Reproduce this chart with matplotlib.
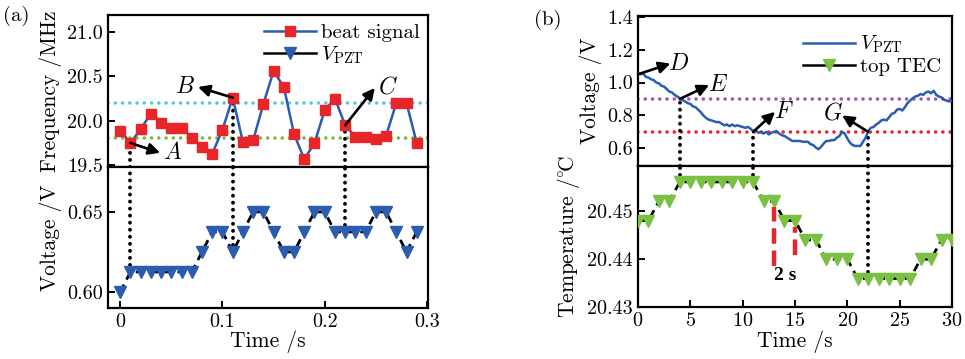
#!/bin/env python
# two-panel figure: (a) beat signal / PZT voltage, (b) PZT voltage / TEC temperature

import matplotlib.pyplot as plt
from matplotlib.lines import Line2D
from matplotlib.ticker import FormatStrFormatter

plt.rcParams['font.family'] = ['cmr10', 'DejaVu Serif']
plt.rcParams['mathtext.fontset'] = 'cm'
plt.rcParams['axes.unicode_minus'] = False
plt.rcParams['axes.formatter.use_mathtext'] = True

# ---- panel (a) data ----
time_a = [0.00, 0.01, 0.02, 0.03, 0.04, 0.05, 0.06, 0.07, 0.08, 0.09,
          0.10, 0.11, 0.12, 0.13, 0.14, 0.15, 0.16, 0.17, 0.18, 0.19,
          0.20, 0.21, 0.22, 0.23, 0.24, 0.25, 0.26, 0.27, 0.28, 0.29]
beat = [19.89, 19.75, 19.91, 20.08, 19.98, 19.92, 19.92, 19.81, 19.70, 19.63,
        19.90, 20.26, 19.76, 19.78, 20.19, 20.56, 20.38, 19.85, 19.57, 19.75,
        20.12, 20.25, 19.95, 19.82, 19.82, 19.80, 19.83, 20.20, 20.20, 19.75]
vpzt_a = [0.600, 0.6125, 0.6125, 0.6125, 0.6125, 0.6125, 0.6125, 0.6125, 0.625, 0.6375,
          0.6375, 0.625, 0.6375, 0.650, 0.650, 0.6375, 0.625, 0.625, 0.6375, 0.650,
          0.650, 0.6375, 0.6375, 0.6375, 0.6375, 0.650, 0.650, 0.6375, 0.625, 0.6375]
freq_levels = [20.2, 19.81]
events_a = [1, 11, 22]          # indices of points A, B, C
labels_a = ['A', 'B', 'C']
label_pos_a = [(0.039, 19.64), (0.076, 20.38), (0.249, 20.37)]

# ---- panel (b) data ----
time_v = [0.0, 0.25, 0.5, 0.75, 1.0, 1.25, 1.5, 1.75, 2.0, 2.25, 2.5, 2.75,
          3.0, 3.25, 3.5, 3.75, 4.0, 4.25, 4.5, 4.75, 5.0, 5.25, 5.5, 5.75,
          6.0, 6.25, 6.5, 6.75, 7.0, 7.25, 7.5, 7.75, 8.0, 8.25, 8.5, 8.75,
          9.0, 9.25, 9.5, 9.75, 10.0, 10.25, 10.5, 10.75, 11.0, 11.25, 11.5, 11.75,
          12.0, 12.25, 12.5, 12.75, 13.0, 13.25, 13.5, 13.75, 14.0, 14.25, 14.5, 14.75,
          15.0, 15.25, 15.5, 15.75, 16.0, 16.25, 16.5, 16.75, 17.0, 17.25, 17.5, 17.75,
          18.0, 18.25, 18.5, 18.75, 19.0, 19.25, 19.5, 19.75, 20.0, 20.25, 20.5, 20.75,
          21.0, 21.25, 21.5, 21.75, 22.0, 22.25, 22.5, 22.75, 23.0, 23.25, 23.5, 23.75,
          24.0, 24.25, 24.5, 24.75, 25.0, 25.25, 25.5, 25.75, 26.0, 26.25, 26.5, 26.75,
          27.0, 27.25, 27.5, 27.75, 28.0, 28.25, 28.5, 28.75, 29.0, 29.25, 29.5, 29.75,
          30.0]
vpzt_b = [1.060, 1.050, 1.055, 1.035, 1.030, 1.020, 1.015, 1.000, 0.995, 0.980, 0.975, 0.960,
          0.945, 0.940, 0.925, 0.915, 0.905, 0.895, 0.885, 0.875, 0.870, 0.855, 0.850, 0.835,
          0.820, 0.800, 0.785, 0.775, 0.770, 0.765, 0.760, 0.760, 0.750, 0.740, 0.745, 0.735,
          0.745, 0.735, 0.740, 0.735, 0.730, 0.725, 0.730, 0.720, 0.705, 0.710, 0.695, 0.700,
          0.690, 0.700, 0.685, 0.695, 0.700, 0.705, 0.690, 0.680, 0.675, 0.665, 0.655, 0.645,
          0.645, 0.645, 0.645, 0.640, 0.640, 0.640, 0.625, 0.620, 0.605, 0.595, 0.610, 0.630,
          0.645, 0.645, 0.650, 0.650, 0.665, 0.675, 0.700, 0.690, 0.660, 0.635, 0.620, 0.615,
          0.615, 0.615, 0.640, 0.665, 0.705, 0.725, 0.730, 0.745, 0.755, 0.770, 0.775, 0.770,
          0.790, 0.810, 0.815, 0.835, 0.840, 0.830, 0.850, 0.875, 0.890, 0.905, 0.915, 0.920,
          0.930, 0.925, 0.940, 0.945, 0.935, 0.950, 0.925, 0.915, 0.910, 0.895, 0.890, 0.885,
          0.890]
time_t = [0, 1, 2, 3, 4, 5, 6, 7, 8, 9, 10, 11, 12, 13, 14, 15,
          16, 17, 18, 19, 20, 21, 22, 23, 24, 25, 26, 27, 28, 29, 30]
temp = [20.448, 20.448, 20.452, 20.452, 20.456, 20.456, 20.456, 20.456, 20.456, 20.456,
        20.456, 20.456, 20.452, 20.452, 20.448, 20.448, 20.444, 20.444, 20.440, 20.440,
        20.440, 20.436, 20.436, 20.436, 20.436, 20.436, 20.436, 20.440, 20.440, 20.444,
        20.444]
volt_levels = [0.9, 0.7]
points_b = [(0.0, 1.05), (4.0, 0.90), (11.0, 0.70), (22.0, 0.70)]   # D, E, F, G
labels_b = ['D', 'E', 'F', 'G']
label_pos_b = [(3.1, 1.115), (6.8, 0.985), (13.1, 0.822), (19.5, 0.80)]
text_pos_b = [(3.9, 1.115), (7.6, 0.985), (13.9, 0.822), (18.6, 0.815)]
two_s_marks = [(13, 20.4385, 20.4508), (15, 20.4408, 20.4467)]

BLUE = '#2a5db0'
RED = '#e8262a'
GREEN = '#79c043'
CYAN = '#5bc8d8'
LGREEN = '#7ab940'
PURPLE = '#a855b5'
DOT = (0, (0.01, 2.0))

TICK_FS = 14.5
LABEL_FS = 15.5


def style_axis(ax):
    for s in ax.spines.values():
        s.set_linewidth(1.6)
    ax.tick_params(direction='in', width=1.4, length=5, labelsize=TICK_FS)


def arrow(ax, start, end):
    ax.annotate('', xy=end, xytext=start,
                arrowprops=dict(arrowstyle='-|>', color='k', lw=1.9,
                                mutation_scale=17, shrinkA=0, shrinkB=0))


def vdots(ax, x, y0, y1):
    ax.plot([x, x], [y0, y1], color='k', lw=2.8, linestyle=(0, (0.01, 1.8)),
            dash_capstyle='round', zorder=1)


def Plot_A(fig):
    ax1 = fig.add_axes([0.1119, 0.5348, 0.3316, 0.4234])
    ax2 = fig.add_axes([0.1119, 0.1421, 0.3316, 0.3928])
    xl = (-0.012, 0.301)

    # top: beat signal
    for lev, c in zip(freq_levels, [CYAN, LGREEN]):
        ax1.axhline(lev, color=c, lw=2.6, linestyle=DOT, dash_capstyle='round', zorder=1)
    ax1.plot(time_a, beat, color=BLUE, lw=1.8, marker='s', ms=6.5,
             mfc=RED, mec=RED, zorder=3)
    ax1.set_xlim(*xl)
    ax1.set_ylim(19.48, 21.19)
    ax1.set_yticks([19.5, 20.0, 20.5, 21.0])
    ax1.yaxis.set_major_formatter(FormatStrFormatter('%.1f'))
    ax1.set_xticks([])
    ax1.set_ylabel('Frequency /MHz', fontsize=LABEL_FS, labelpad=4)

    # bottom: PZT voltage
    ax2.plot(time_a, vpzt_a, color='k', lw=2, linestyle=(0, (3, 2)), zorder=2)
    ax2.plot(time_a, vpzt_a, linestyle='none', marker='v', ms=8.5,
             mfc=BLUE, mec=BLUE, zorder=3)
    ax2.set_xlim(*xl)
    ax2.set_ylim(0.59, 0.678)
    ax2.set_yticks([0.60, 0.65])
    ax2.yaxis.set_major_formatter(FormatStrFormatter('%.2f'))
    ax2.set_xticks([0, 0.1, 0.2, 0.3])
    ax2.set_xticklabels(['0', '0.1', '0.2', '0.3'])
    ax2.set_xlabel('Time /s', fontsize=LABEL_FS, labelpad=0)
    ax2.set_ylabel('Voltage /V', fontsize=LABEL_FS, labelpad=4)

    # event markers A, B, C
    for i, lab, pos in zip(events_a, labels_a, label_pos_a):
        t = time_a[i]
        vdots(ax1, t, 19.48, beat[i])
        vdots(ax2, t, vpzt_a[i], 0.678)
        arrow(ax1, (t, beat[i]), pos)
        dx = 0.003 if pos[0] > t else -0.003
        ax1.text(pos[0] + dx, pos[1], '$' + lab + '$', fontsize=17,
                 ha='left' if dx > 0 else 'right', va='center')

    handles = [Line2D([], [], color=BLUE, lw=1.8, marker='s', ms=6.5, mfc=RED, mec=RED),
               Line2D([], [], color='k', lw=1.8, marker='v', ms=8, mfc=BLUE, mec=BLUE)]
    ax1.legend(handles, ['beat signal', r'$V_{\rm PZT}$'], loc='upper right',
               frameon=False, fontsize=15, handlelength=2.5, borderaxespad=0.0,
               labelspacing=0.1, handletextpad=0.25)

    for ax in (ax1, ax2):
        style_axis(ax)
    ax1.tick_params(bottom=False)
    return ax1, ax2


def Plot_B(fig):
    ax1 = fig.add_axes([0.6611, 0.5376, 0.3254, 0.4178])
    ax2 = fig.add_axes([0.6611, 0.1435, 0.3254, 0.3942])

    # top: PZT voltage
    for lev, c in zip(volt_levels, [PURPLE, RED]):
        ax1.axhline(lev, color=c, lw=2.6, linestyle=DOT, dash_capstyle='round', zorder=1)
    ax1.plot(time_v, vpzt_b, color=BLUE, lw=1.8, zorder=3)
    ax1.set_xlim(0, 30)
    ax1.set_ylim(0.493, 1.404)
    ax1.set_yticks([0.6, 0.8, 1.0, 1.2, 1.4])
    ax1.yaxis.set_major_formatter(FormatStrFormatter('%.1f'))
    ax1.set_xticks([])
    ax1.set_ylabel('Voltage /V', fontsize=LABEL_FS, labelpad=4)

    # bottom: TEC temperature
    ax2.plot(time_t, temp, color='k', lw=2, linestyle=(0, (3, 2)), zorder=2)
    ax2.plot(time_t, temp, linestyle='none', marker='v', ms=8.5,
             mfc=GREEN, mec=GREEN, zorder=3)
    ax2.set_xlim(0, 30)
    ax2.set_ylim(20.43, 20.4593)
    ax2.set_yticks([20.43, 20.44, 20.45])
    ax2.yaxis.set_major_formatter(FormatStrFormatter('%.2f'))
    ax2.set_xticks([0, 5, 10, 15, 20, 25, 30])
    ax2.set_xlabel('Time /s', fontsize=LABEL_FS, labelpad=0)
    ax2.set_ylabel(r'Temperature /$^{\circ}\!$C', fontsize=LABEL_FS, labelpad=4)

    # event markers E, F, G (dotted lines through both panels)
    for t, v in points_b[1:]:
        vdots(ax1, t, 0.493, v)
        vdots(ax2, t, temp[time_t.index(int(t))], 20.4593)

    for p, lab, head, tp in zip(points_b, labels_b, label_pos_b, text_pos_b):
        arrow(ax1, p, head)
        ax1.text(tp[0], tp[1], '$' + lab + '$', fontsize=17,
                 ha='center', va='center')

    # 2 s delay marks
    for x, y0, y1 in two_s_marks:
        ax2.plot([x, x], [y0, y1], color=RED, lw=3.2, linestyle=(0, (3.5, 1.5)),
                 zorder=4)
    ax2.text(14.1, 20.4367, '2 s', fontsize=14, fontweight='bold',
             ha='center', va='center', family=['Liberation Serif'])

    handles = [Line2D([], [], color=BLUE, lw=1.8),
               Line2D([], [], color='k', lw=1.8, marker='v', ms=8, mfc=GREEN, mec=GREEN)]
    ax1.legend(handles, [r'$V_{\rm PZT}$', 'top TEC'], loc='upper right',
               bbox_to_anchor=(1.0, 0.95), frameon=False, fontsize=15,
               handlelength=2.5, borderaxespad=0.1, labelspacing=0.1,
               handletextpad=0.25)

    for ax in (ax1, ax2):
        style_axis(ax)
    ax1.tick_params(bottom=False)
    return ax1, ax2


if __name__ == '__main__':
    fig = plt.figure(figsize=(9.65, 3.59), dpi=100)
    axa = Plot_A(fig)
    axb = Plot_B(fig)
    fig.align_ylabels(list(axa))
    fig.text(0.003, 0.955, '(a)', fontsize=15, va='center')
    fig.text(0.553, 0.945, '(b)', fontsize=15, va='center')
    fig.savefig('out.png', dpi=100)
    plt.close(fig)
